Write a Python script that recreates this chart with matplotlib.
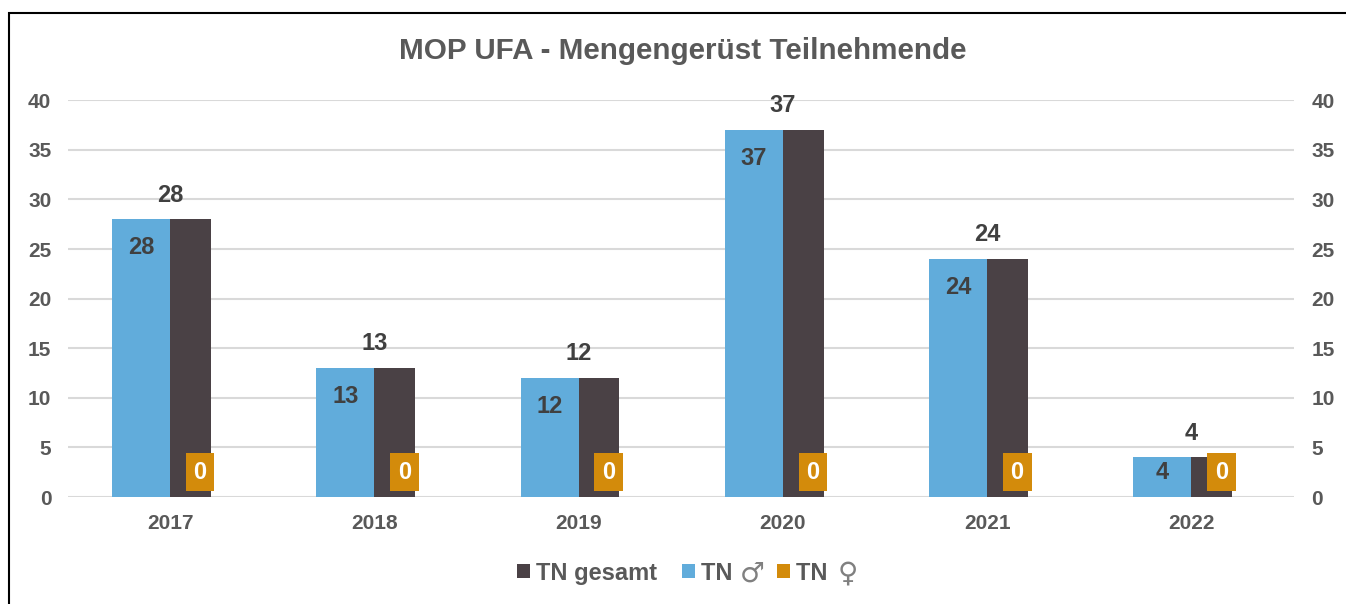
import matplotlib
matplotlib.use("Agg")
import matplotlib.pyplot as plt
from matplotlib.text import Annotation
import numpy as np
from matplotlib.patches import Rectangle

plt.rcParams['font.family'] = ['Liberation Sans', 'DejaVu Sans']

# Daten
jahre = ['2017', '2018', '2019', '2020', '2021', '2022']
tn_gesamt = [28, 13, 12, 37, 24, 4]
tn_maennlich = [28, 13, 12, 37, 24, 4]
tn_weiblich = [0, 0, 0, 0, 0, 0]

farbe_gesamt = '#4A4145'
farbe_m = '#61ACDB'
farbe_w = '#D38B0B'
text_grau = '#595959'
label_grau = '#404040'

fig = plt.figure(figsize=(13.46, 6.04), dpi=100)
ax = fig.add_axes([0.0505, 0.177, 0.9105, 0.657])
ax2 = ax.twinx()

x = np.arange(len(jahre))

# Primärachse: TN männlich / weiblich, Sekundärachse: TN gesamt
b_m = ax.bar(x - 0.142, tn_maennlich, width=0.285, color=farbe_m, zorder=2)
b_g = ax.bar(x + 0.1, tn_gesamt, width=0.2, color=farbe_gesamt, zorder=2)
b_w = ax.bar(x + 0.142, tn_weiblich, width=0.285, color=farbe_w, zorder=2)

for ax_ in (ax, ax2):
    ax_.set_ylim(0, 40)
    ax_.set_yticks(range(0, 41, 5))
    for s in ax_.spines.values():
        s.set_visible(False)
    ax_.tick_params(length=0, labelsize=15, labelcolor=text_grau, pad=12)
    for t in ax_.get_yticklabels():
        t.set_fontweight('bold')

ax.set_xlim(-0.5, len(jahre) - 0.5)
ax.set_xticks(x)
ax.set_xticklabels(jahre, fontweight='bold')
ax.tick_params(axis='x', pad=12)
ax.yaxis.grid(True, color='#D9D9D9', linewidth=1.5, zorder=0)
ax.set_axisbelow(True)
ax2.tick_params(axis='y', pad=13)

# Beschriftungen
for i, (g, m, w) in enumerate(zip(tn_gesamt, tn_maennlich, tn_weiblich)):
    ax.annotate(str(g), (x[i], g), xytext=(0, 17.5), textcoords='offset points',
                ha='center', va='center', fontsize=17, fontweight='bold', color=label_grau)
    off = -20.5 if m > 8 else -11
    ax.annotate(str(m), (x[i] - 0.142, m), xytext=(0, off), textcoords='offset points',
                ha='center', va='center', fontsize=17, fontweight='bold', color=label_grau)
    ax.annotate(str(w), (x[i] + 0.147, w), xytext=(0, 18), textcoords='offset points',
                ha='center', va='center', fontsize=17, fontweight='bold', color='white',
                bbox=dict(boxstyle='square,pad=0.33', fc=farbe_w, ec='none'), zorder=5)

fig.text(0.507, 0.915, 'MOP UFA - Mengengerüst Teilnehmende', ha='center', va='center',
         fontsize=21.3, fontweight='bold', color=text_grau)

# Legende; die Geschlechtszeichen werden größer und dünner extra gesetzt
leg = fig.legend(handles=[b_g, b_m, b_w], labels=['TN gesamt', 'TN   ', 'TN   '],
                 loc='center', bbox_to_anchor=(0.507, 0.051), ncol=3,
                 frameon=False, handlelength=0.55, handleheight=0.55, handletextpad=0.25,
                 columnspacing=1.05, prop={'size': 17, 'weight': 'bold'},
                 labelcolor=text_grau)
for txt, sym in zip(leg.get_texts()[1:], ['\u2642', '\u2640']):
    ann = Annotation(sym, xy=(0, 0.5), xycoords=txt, xytext=(37, 0),
                     textcoords='offset points', ha='center', va='center',
                     fontsize=20, family='DejaVu Sans', color='#808080', zorder=10)
    fig.add_artist(ann)

# Rahmen
fig.patches.append(Rectangle((9 / 1346, -0.1), 1.2, 1.1 - 13 / 604, transform=fig.transFigure,
                             fill=False, ec='black', lw=1.5))

fig.canvas.draw()
fig.savefig('out.png', dpi=100)
